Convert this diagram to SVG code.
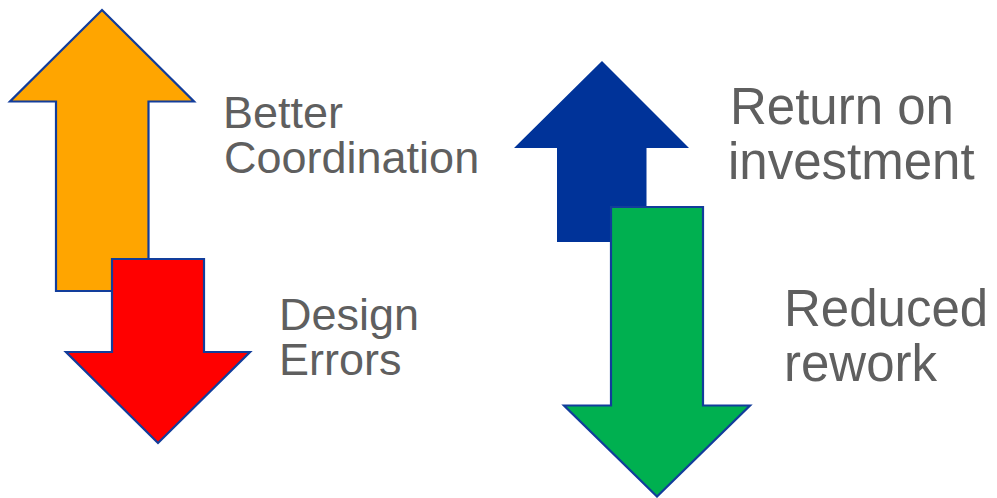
<svg xmlns="http://www.w3.org/2000/svg" width="997" height="498" viewBox="0 0 997 498">
<style>
.arrow{stroke:#123d9b;stroke-width:2.2;stroke-linejoin:miter}
.lbl{font-family:"Liberation Sans",Arial,sans-serif;fill:#5f5f5f}
.l44{font-size:45px}
.l49{font-size:51px}
</style>
<rect width="997" height="498" fill="#ffffff"/>
<g id="connectors"></g>
<g id="up-orange">
<polygon class="arrow" fill="#ffa500" points="102,10 194,101.5 148.5,101.5 148.5,291 56,291 56,101.5 10,101.5"/>
</g>
<g id="down-red">
<polygon class="arrow" fill="#ff0000" points="112,259 204,259 204,352 250,352 158,443 66,352 112,352"/>
</g>
<g id="up-blue">
<polygon fill="#003399" points="602,61 689,148 646.5,148 646.5,242 557,242 557,148 514,148"/>
</g>
<g id="down-green">
<polygon class="arrow" fill="#00b050" points="611,207 703,207 703,405.5 750,405.5 657,496.5 564,405.5 611,405.5"/>
</g>
<g id="label-better">
<text class="lbl l44" x="223" y="128">Better</text>
<text class="lbl l44" x="224" y="173">Coordination</text>
</g>
<g id="label-design">
<text class="lbl l44" x="279" y="330">Design</text>
<text class="lbl l44" x="279" y="375">Errors</text>
</g>
<g id="label-roi">
<text class="lbl l49" x="730" y="124">Return on</text>
<text class="lbl l49" x="728" y="179">investment</text>
</g>
<g id="label-rework">
<text class="lbl l49" x="784" y="326">Reduced</text>
<text class="lbl l49" x="784" y="381">rework</text>
</g>
</svg>
